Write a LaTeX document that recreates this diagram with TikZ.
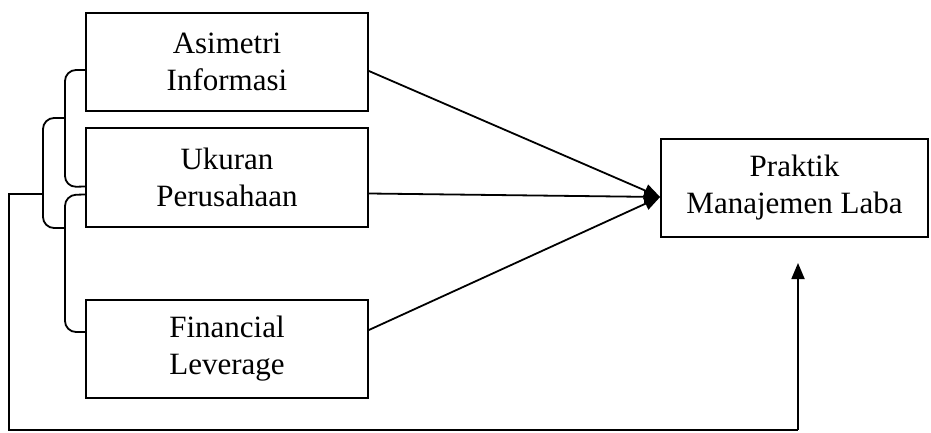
\documentclass[tikz,border=0pt]{standalone}
\usepackage{fontspec}
\setmainfont{Liberation Serif}
\usetikzlibrary{arrows.meta}

\tikzset{
    kotak/.style={draw, line width=1.8pt, align=center, inner sep=0pt,
        font=\fontsize{31}{37}\selectfont},
    garis/.style={line width=1.8pt},
    kurung/.style={line width=1.8pt, rounded corners=11pt},
    panah/.style={line width=1.8pt, -{Triangle[length=16pt,width=13pt]}}
}

\begin{document}
\begin{tikzpicture}[x=1pt, y=-1pt]

    \useasboundingbox (0,0) rectangle (931,433);

    \node[kotak, minimum width=282pt, minimum height=98pt] (asimetri) at (227,62) {Asimetri\\Informasi};
    \node[kotak, minimum width=282pt, minimum height=99pt] (ukuran) at (227,177.5) {Ukuran\\Perusahaan};
    \node[kotak, minimum width=282pt, minimum height=98pt] (leverage) at (227,349) {Financial\\Leverage};
    \node[kotak, minimum width=267pt, minimum height=98pt] (praktik) at (794.5,188) {Praktik\\Manajemen Laba};

    \coordinate (a1) at ([yshift=-9pt]asimetri.east);
    \coordinate (a2) at ([yshift=-16pt]ukuran.east);
    \coordinate (a3) at ([yshift=19pt]leverage.east);
    \coordinate (tuju) at ([yshift=-9pt]praktik.west);
    \coordinate (bawah) at (798,263);

    \draw[panah] (a1) -- (tuju);
    \draw[panah] (a2) -- (tuju);
    \draw[panah] (a3) -- (tuju);

    % kurung kiri
    \draw[kurung] ([yshift=-8pt]asimetri.west) -- (65,70) -- (65,187) -- ([yshift=-9pt]ukuran.west);
    \draw[kurung] ([yshift=-17pt]ukuran.west) -- (65,195) -- (65,332) -- ([yshift=17pt]leverage.west);
    \draw[kurung] (65,118) -- (43,118) -- (43,228) -- (65,228);

    \draw[garis] (43,194) -- (9,194) -- (9,430) -- (798,430);
    \draw[panah] (798,430) -- (bawah);

\end{tikzpicture}
\end{document}
